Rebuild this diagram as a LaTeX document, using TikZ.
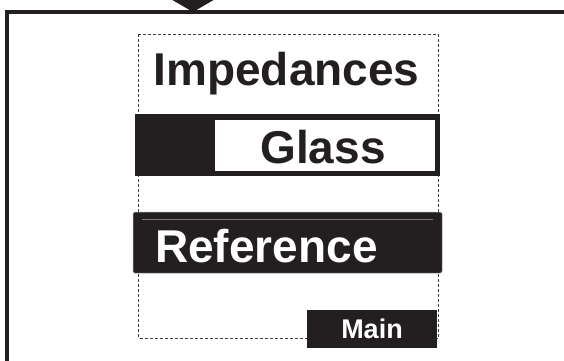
\documentclass[tikz,border=0pt]{standalone}
\usepackage{fontspec}
\setmainfont{Liberation Sans}
\definecolor{ink}{HTML}{231F20}
\begin{document}
\begin{tikzpicture}[x=1pt,y=-1pt,
  lbl/.style={inner sep=0pt,anchor=base,font=\fontsize{46}{46}\selectfont\bfseries},
  dashbox/.style={draw=ink!85,line width=0.8pt,dash pattern=on 3pt off 2pt}]
\useasboundingbox (0,0) rectangle (564,360);
% outer frame
\draw[ink,line width=4pt] (7,362) -- (7,11.5) -- (566,11.5);
% arrow head from above
\fill[ink] (169,-2) -- (217,-2) -- (193,12) -- cycle;
% dashed box
\draw[dashbox] (138.5,34) rectangle (438,338);
% Impedances
\node[lbl,text=ink] (imp) at (286.5,85) {Impedances};
% Glass bar
\fill[ink] (135,114) rectangle (440,176);
\fill[white] (215,120) rectangle (435,171);
\node[lbl,text=ink] (glass) at (323,163) {Glass};
% Reference bar
\fill[ink,draw=ink!40,line width=0.5pt,rounded corners=1.5pt] (133,212) rectangle (442,273);
\draw[ink!60!white,line width=0.6pt] (142,219) -- (433,219);
\node[lbl,text=white,anchor=base west] (ref) at (155,262) {Reference};
% Main box
\fill[ink] (307,310) rectangle (437,348);
\node[inner sep=0pt,anchor=base,font=\fontsize{27}{27}\selectfont\bfseries,text=white] (main) at (372,338) {Main};
\end{tikzpicture}
\end{document}
